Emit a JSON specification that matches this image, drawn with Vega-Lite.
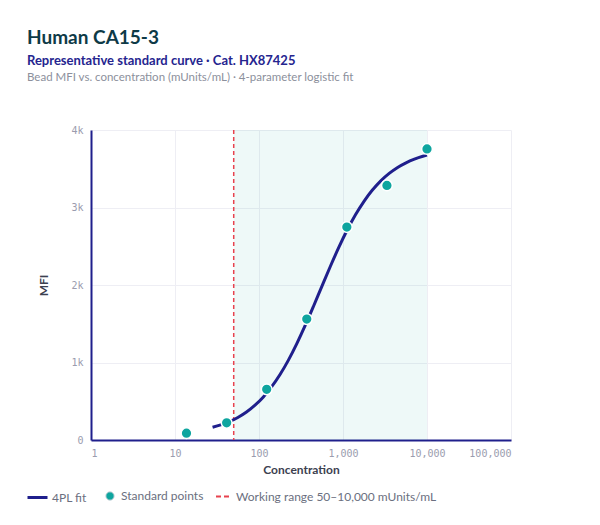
{
  "$schema": "https://vega.github.io/schema/vega-lite/v6.json",
  "background": "#ffffff",
  "padding": {"left": 26, "top": 28, "right": 20, "bottom": 10},
  "title": {
    "text": "Human CA15-3",
    "subtitle": "Representative standard curve · Cat. HX87425",
    "anchor": "start",
    "dx": 1,
    "font": "Lato",
    "fontSize": 19,
    "fontWeight": "bold",
    "color": "#0e3a47",
    "subtitleFont": "Lato",
    "subtitleFontSize": 13,
    "subtitleFontWeight": "bold",
    "subtitleColor": "#25258f",
    "subtitlePadding": 7,
    "offset": 4
  },
  "datasets": {
    "curve": [
      {"conc": 28, "mfi": 164}, {"conc": 35, "mfi": 195}, {"conc": 45, "mfi": 240},
      {"conc": 56, "mfi": 291}, {"conc": 71, "mfi": 361}, {"conc": 89, "mfi": 446},
      {"conc": 112, "mfi": 553}, {"conc": 141, "mfi": 685}, {"conc": 178, "mfi": 845},
      {"conc": 224, "mfi": 1031}, {"conc": 282, "mfi": 1244}, {"conc": 355, "mfi": 1478},
      {"conc": 447, "mfi": 1729}, {"conc": 562, "mfi": 1986}, {"conc": 708, "mfi": 2242},
      {"conc": 891, "mfi": 2485}, {"conc": 1122, "mfi": 2709}, {"conc": 1413, "mfi": 2909},
      {"conc": 1778, "mfi": 3080}, {"conc": 2239, "mfi": 3225}, {"conc": 2818, "mfi": 3344},
      {"conc": 3548, "mfi": 3440}, {"conc": 4467, "mfi": 3517}, {"conc": 5623, "mfi": 3577},
      {"conc": 7079, "mfi": 3624}, {"conc": 8913, "mfi": 3661}, {"conc": 10000, "mfi": 3676}
    ],
    "standards": [
      {"conc": 13.7, "mfi": 88}, {"conc": 41.2, "mfi": 222}, {"conc": 123.5, "mfi": 654},
      {"conc": 370.4, "mfi": 1560}, {"conc": 1111, "mfi": 2748}, {"conc": 3333, "mfi": 3285},
      {"conc": 10000, "mfi": 3755}
    ],
    "range": [{"lo": 50, "hi": 10000}]
  },
  "vconcat": [
    {
      "width": 420,
      "height": 310,
      "title": {
        "text": "Bead MFI vs. concentration (mUnits/mL) · 4-parameter logistic fit",
        "anchor": "start",
        "dx": 1,
        "font": "Lato",
        "fontSize": 11.5,
        "fontWeight": "normal",
        "color": "#8c909c",
        "offset": 42
      },
      "resolve": {"scale": {"color": "independent"}},
      "layer": [
        {
          "data": {"name": "range"},
          "mark": {"type": "rect", "color": "#0aa5a0", "opacity": 0.07},
          "encoding": {
            "x": {
              "field": "lo",
              "type": "quantitative",
              "title": "Concentration",
              "scale": {"type": "log", "domain": [1, 100000]},
              "axis": {"values": [1, 10, 100, 1000, 10000, 100000], "format": ","}
            },
            "x2": {"field": "hi"}
          }
        },
        {
          "data": {"name": "range"},
          "transform": [{"calculate": "'Working range 50–10,000 mUnits/mL'", "as": "series"}],
          "mark": {"type": "rule", "strokeDash": [4, 3], "strokeWidth": 1.5, "opacity": 1},
          "encoding": {
            "x": {"field": "lo", "type": "quantitative"},
            "color": {
              "field": "series",
              "type": "nominal",
              "scale": {"range": ["#e8424e"]},
              "legend": {
                "title": null,
                "orient": "none",
                "legendX": 124,
                "legendY": 359,
                "padding": 0,
                "symbolType": "stroke",
                "symbolSize": 169,
                "symbolDash": [5, 3],
                "symbolStrokeWidth": 2,
                "labelOffset": 6,
                "labelLimit": 400,
                "labelFont": "Lato",
                "labelFontSize": 12,
                "labelColor": "#6b6f80"
              }
            }
          }
        },
        {
          "data": {"name": "curve"},
          "transform": [{"calculate": "'4PL fit'", "as": "series"}],
          "mark": {"type": "line", "strokeWidth": 3, "interpolate": "monotone"},
          "encoding": {
            "x": {"field": "conc", "type": "quantitative"},
            "y": {
              "field": "mfi",
              "type": "quantitative",
              "title": "MFI",
              "scale": {"domain": [0, 4000]},
              "axis": {"values": [0, 1000, 2000, 3000, 4000], "labelExpr": "datum.value ? datum.value / 1000 + 'k' : '0'"}
            },
            "color": {
              "field": "series",
              "type": "nominal",
              "scale": {"range": ["#1f1f8c"]},
              "legend": {
                "title": null,
                "orient": "none",
                "legendX": -65,
                "legendY": 356,
                "padding": 0,
                "symbolType": "stroke",
                "symbolSize": 400,
                "symbolStrokeWidth": 3,
                "labelOffset": 3,
                "labelFont": "Lato",
                "labelFontSize": 12,
                "labelColor": "#6b6f80"
              }
            }
          }
        },
        {
          "data": {"name": "standards"},
          "transform": [{"calculate": "'Standard points'", "as": "series"}],
          "mark": {"type": "point", "filled": true, "opacity": 1, "size": 115, "stroke": "#ffffff", "strokeWidth": 1.5},
          "encoding": {
            "x": {"field": "conc", "type": "quantitative"},
            "y": {"field": "mfi", "type": "quantitative"},
            "color": {
              "field": "series",
              "type": "nominal",
              "scale": {"range": ["#0ea59f"]},
              "legend": {
                "title": null,
                "orient": "none",
                "legendX": 13,
                "legendY": 360,
                "padding": 0,
                "symbolType": "circle",
                "symbolSize": 70,
                "symbolStrokeColor": "#d3d6de",
                "symbolStrokeWidth": 1,
                "labelOffset": 5,
                "labelFont": "Lato",
                "labelFontSize": 12,
                "labelColor": "#6b6f80"
              }
            }
          }
        }
      ]
    }
  ],
  "config": {
    "font": "Lato",
    "view": {"stroke": null},
    "axis": {
      "ticks": false,
      "domainColor": "#1f1f8c",
      "domainWidth": 2,
      "gridColor": "#eeeef4",
      "gridWidth": 1,
      "labelFont": "DejaVu Sans Mono",
      "labelFontSize": 10,
      "labelColor": "#9a9cae",
      "labelPadding": 8,
      "titleFont": "Lato",
      "titleFontSize": 12,
      "titleFontWeight": "bold",
      "titleColor": "#3c4150"
    },
    "axisX": {"titlePadding": 6},
    "axisY": {"titlePadding": 20}
  }
}
